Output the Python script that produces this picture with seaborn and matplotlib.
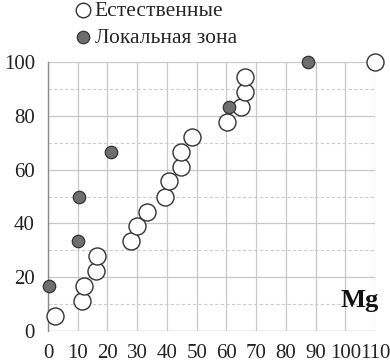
import numpy as np
import pandas as pd
import matplotlib.pyplot as plt
import seaborn as sns

# естественные (open circles)
nat_x = [2.4, 11.5, 12.2, 16.2, 16.4, 27.8, 29.9, 33.2, 39.4, 40.7, 44.8, 44.8, 48.4, 60.2, 64.9, 66.3, 66.3, 110]
nat_y = [5.6, 11.1, 16.7, 22.2, 27.8, 33.3, 38.9, 44.4, 50.0, 55.6, 61.1, 66.7, 72.2, 77.8, 83.3, 88.9, 94.4, 100]
# локальная зона (filled)
loc_x = [0.2, 10.0, 10.4, 21.1, 61.0, 87.6]
loc_y = [16.7, 33.3, 50.0, 66.7, 83.3, 100]

xticks = list(range(0, 111, 10))
yticks = list(range(0, 101, 20))

sns.set_style("white")
plt.rcParams['font.family'] = ['Liberation Serif', 'DejaVu Serif']

fig = plt.figure(figsize=(3.9, 3.64), dpi=100)
ax = fig.add_axes([48/390, 1 - 331/364, 327/390, 269/364])

nat = pd.DataFrame({"x": nat_x, "y": nat_y})
loc = pd.DataFrame({"x": loc_x, "y": loc_y})

sns.scatterplot(data=nat, x="x", y="y", ax=ax, s=150, color="white",
                edgecolor="#333333", linewidth=1.0, clip_on=False, zorder=3,
                label="Естественные")
sns.scatterplot(data=loc, x="x", y="y", ax=ax, s=80, color="#6e6e6e",
                edgecolor="#333333", linewidth=0.9, clip_on=False, zorder=4,
                label="Локальная зона")

ax.set_xlim(0, 110)
ax.set_ylim(0, 100)
ax.set_xticks(xticks)
ax.set_yticks(yticks)
ax.set_yticks([10, 30, 50, 70, 90], minor=True)
ax.grid(True, which="major", axis="both", color="#c8c8c8", linewidth=0.9)
ax.grid(True, which="minor", axis="y", color="#cccccc", linewidth=0.8, linestyle=(0, (3, 2)))
ax.set_axisbelow(True)
for side in ["top", "right", "bottom"]:
    ax.spines[side].set_visible(False)
ax.spines["left"].set_color("#8a8a8a")
ax.spines["left"].set_linewidth(1.0)
ax.tick_params(axis="both", which="major", direction="out", length=3.5, width=0.9,
               color="#b0b0b0", labelsize=15, labelcolor="#222222")
ax.tick_params(axis="x", pad=6)
ax.tick_params(axis="y", pad=6)
ax.tick_params(axis="y", which="minor", length=0)
ax.axhline(0, color="#b0b0b0", linewidth=0.9, zorder=1)
ax.set_xlabel("")
ax.set_ylabel("")

ax.text(1.01, 0.115, "Mg", transform=ax.transAxes, ha="right", va="center",
        fontsize=19, fontweight="bold", color="#111111")

leg = ax.legend(loc="upper left", bbox_to_anchor=(70/390, 1.003), bbox_transform=fig.transFigure,
                frameon=False, fontsize=15.5, handletextpad=0.05, labelspacing=0.3,
                borderaxespad=0, borderpad=0.1, handlelength=1.0)
leg.legend_handles[0].set_sizes([110])
leg.legend_handles[1].set_sizes([80])

fig.savefig("out.png", dpi=100)
